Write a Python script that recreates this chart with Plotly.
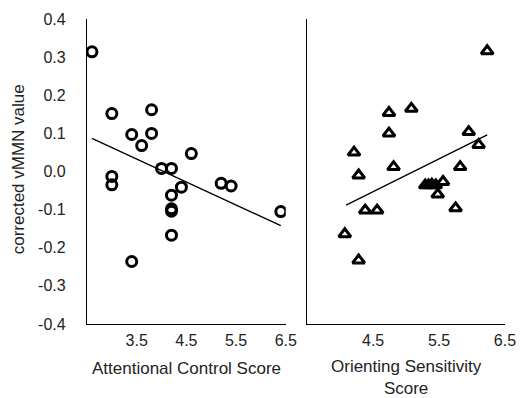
import plotly.graph_objects as go

# ---- data ----
attn_x = [2.6, 3.0, 3.8, 3.4, 3.8, 3.6, 4.6, 4.0, 4.2, 3.0, 3.0, 5.2, 5.4, 4.2, 4.4, 4.2, 4.2, 4.2, 3.4, 6.4]
attn_y = [0.314, 0.152, 0.162, 0.097, 0.100, 0.068, 0.047, 0.008, 0.008, -0.013, -0.035, -0.031, -0.038,
          -0.062, -0.041, -0.098, -0.104, -0.167, -0.236, -0.105]
attn_fit_x = [2.6, 6.4]
attn_fit_y = [0.087, -0.142]

orient_x = [6.23, 4.74, 5.08, 4.74, 5.95, 6.10, 4.21, 4.28, 4.81, 5.82, 5.29, 5.34, 5.39, 5.45, 5.56,
            5.48, 4.38, 4.56, 5.75, 4.07, 4.28]
orient_y = [0.316, 0.154, 0.165, 0.100, 0.104, 0.070, 0.050, -0.010, 0.012, 0.012, -0.036, -0.036, -0.034,
            -0.036, -0.027, -0.060, -0.102, -0.102, -0.096, -0.164, -0.233]
orient_fit_x = [4.09, 6.23]
orient_fit_y = [-0.088, 0.096]

y_ticks = [-0.4, -0.3, -0.2, -0.1, 0.0, 0.1, 0.2, 0.3, 0.4]
y_tick_text = ["-0.4", "-0.3", "-0.2", "-0.1", "0.0", "0.1", "0.2", "0.3", "0.4"]
x1_ticks = [3.5, 4.5, 5.5, 6.5]
x1_tick_text = ["3.5", "4.5", "5.5", "6.5"]
x2_ticks = [4.5, 5.5, 6.5]
x2_tick_text = ["4.5", "5.5", "6.5"]

FONT = "Liberation Sans, Arial, Helvetica, sans-serif"
TXT = "#222"

fig = go.Figure()
fig.add_trace(go.Scatter(x=attn_x, y=attn_y, mode="markers", xaxis="x", yaxis="y",
                         marker=dict(symbol="circle-open", size=10, color="black", line=dict(width=3, color="black"))))
fig.add_trace(go.Scatter(x=attn_fit_x, y=attn_fit_y, mode="lines", xaxis="x", yaxis="y",
                         line=dict(color="black", width=1.3)))
fig.add_trace(go.Scatter(x=orient_x, y=orient_y, mode="markers", xaxis="x2", yaxis="y2",
                         marker=dict(symbol="triangle-up-open", size=10.5, color="black", line=dict(width=3, color="black"))))
fig.add_trace(go.Scatter(x=orient_fit_x, y=orient_fit_y, mode="lines", xaxis="x2", yaxis="y2",
                         line=dict(color="black", width=1.3)))

L, R, T, B = 87, 11, 15, 74
W, H = 527, 398
pw = W - L - R
ph = H - T - B
d1 = [0, (291 - L) / pw]
d2 = [(313 - L) / pw, 1]

common_x = dict(showgrid=False, zeroline=False, showline=True, linecolor="black", linewidth=1.2,
                ticks="", ticklabelstandoff=2,
                tickfont=dict(family=FONT, size=16, color=TXT))
common_y = dict(showgrid=False, zeroline=False, showline=True, linecolor="black", linewidth=1.2,
                range=[-0.4, 0.4], tickvals=y_ticks, ticktext=y_tick_text, ticks="",
                tickfont=dict(family=FONT, size=16, color=TXT))

fig.update_layout(
    width=W, height=H,
    margin=dict(l=L, r=R, t=T, b=B),
    paper_bgcolor="white", plot_bgcolor="white",
    showlegend=False,
    xaxis=dict(domain=d1, range=[2.5, 6.5], anchor="y", tickvals=x1_ticks, ticktext=x1_tick_text, **common_x),
    yaxis=dict(domain=[0, 1], anchor="x", ticklabelstandoff=17, **common_y),
    xaxis2=dict(domain=d2, range=[3.5, 6.5], anchor="y2", tickvals=x2_ticks, ticktext=x2_tick_text, **common_x),
    yaxis2=dict(domain=[0, 1], anchor="x2", showticklabels=False, **common_y),
    annotations=[
        dict(text="corrected vMMN value", xref="paper", yref="paper",
             x=(17 - L) / pw, y=(H - B - 167.5) / ph, xanchor="center", yanchor="middle",
             textangle=-90, showarrow=False, font=dict(family=FONT, size=17, color=TXT)),
        dict(text="Attentional Control Score", xref="paper", yref="paper",
             x=(189 - L) / pw, y=(H - B - 369) / ph, xanchor="center", yanchor="middle",
             showarrow=False, font=dict(family=FONT, size=17, color=TXT)),
        dict(text="Orienting Sensitivity<br>Score", xref="paper", yref="paper",
             x=(414.5 - L) / pw, y=(H - B - 378) / ph, xanchor="center", yanchor="middle",
             showarrow=False, font=dict(family=FONT, size=17, color=TXT)),
    ],
)

fig.write_html("out.html")
